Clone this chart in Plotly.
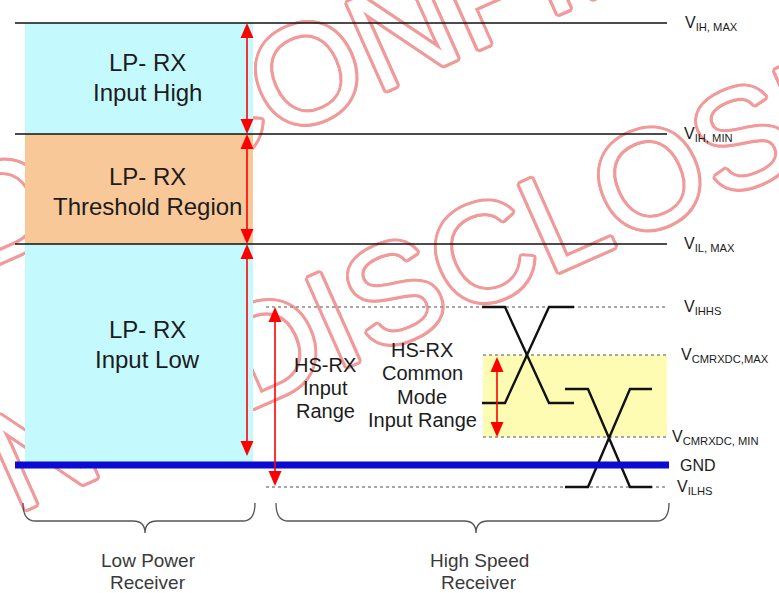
import plotly.graph_objects as go

# ---------------- diagram data (diagram units, y grows downward) ----------------
W, H = 779, 593

lp_level_labels = ["V<sub>IH, MAX</sub>", "V<sub>IH, MIN</sub>", "V<sub>IL, MAX</sub>"]
lp_levels = [23, 134, 244]
lp_label_x = [683, 682, 682]

gnd_level = 465
gnd_label = "GND"

hs_level_labels = ["V<sub>IHHS</sub>", "V<sub>CMRXDC,MAX</sub>", "V<sub>CMRXDC, MIN</sub>", "V<sub>ILHS</sub>"]
hs_levels = [307, 355, 437, 487]
hs_label_x = [682, 679, 670, 675]
hs_line_start = [266, 483, 483, 266]

line_x_start = 15
line_x_end = 667

lp_region_labels = [["LP- RX", "Input High"], ["LP- RX", "Threshold Region"], ["LP- RX", "Input Low"]]
lp_region_label_y = [77, 191, 344]
lp_region_top = [23, 134, 244]
lp_region_bottom = [134, 244, 462]
lp_region_colors = ["#c4fafe", "#f9c898", "#c4fafe"]
lp_region_x = [25, 253]

cm_region_x = [483, 667]

lp_arrow_x = 247
lp_arrow_spans = [(23, 134), (134, 244), (244, 456)]
hs_arrow_x = 275
hs_arrow_span = (307, 486)
cm_arrow_x = 497
cm_arrow_span = (357, 437)

hs_text = [["HS-RX", "Input", "Range"], ["HS-RX", "Common", "Mode", "Input Range"]]
hs_text_x = [325, 422]
hs_text_y = [388, 385]

eye1_x = [482, 505, 549, 574]
eye1_fall = [307, 307, 403, 403]
eye1_rise = [403, 403, 307, 307]
eye2_x = [565, 588, 630, 652]
eye2_fall = [389, 389, 487, 487]
eye2_rise = [487, 487, 389, 389]

brace_labels = [["Low Power", "Receiver"], ["High Speed", "Receiver"]]
brace_x0 = [23, 276]
brace_x1 = [255, 669]
brace_tip = [145, 476]
brace_y = (503, 521, 533)
brace_label_y = 571

watermark_text = ["NDA CONFIDENTIAL", "NO DISCLOSURE"]
watermark_cx = [484, 525]
watermark_cy = [-6, 234]

# ---------------- figure ----------------
fig = go.Figure()
FONT = "Liberation Sans, Arial, sans-serif"

# watermark (bottom layer, hollow letters)
pink = "#f29a9a"
offs = [(3, 0), (-3, 0), (0, 3), (0, -3), (2, 2), (2, -2), (-2, 2), (-2, -2),
        (3, 1), (3, -1), (-3, 1), (-3, -1), (1, 3), (1, -3), (-1, 3), (-1, -3)]
shadow = ", ".join(f"{dx}px {dy}px 0 {pink}" for dx, dy in offs)
for t, cx, cy in zip(watermark_text, watermark_cx, watermark_cy):
    fig.add_trace(go.Bar(
        x=[cx], y=[20], base=[cy - 10], width=[4],
        marker=dict(color="rgba(0,0,0,0)", line=dict(width=0)),
        text=[t], textposition="inside", insidetextanchor="middle",
        constraintext="none", textangle=-24,
        textfont=dict(family=FONT, size=140, color="white", shadow=shadow),
        hoverinfo="skip", showlegend=False, cliponaxis=True,
    ))

# LP regions
for top, bot, col in zip(lp_region_top, lp_region_bottom, lp_region_colors):
    x0, x1 = lp_region_x
    fig.add_trace(go.Scatter(x=[x0, x1, x1, x0, x0], y=[top, top, bot, bot, top],
                             mode="lines", fill="toself", fillcolor=col,
                             line=dict(width=0, color=col), hoverinfo="skip", showlegend=False))

# HS common-mode region
x0, x1 = cm_region_x
fig.add_trace(go.Scatter(x=[x0, x1, x1, x0, x0],
                         y=[hs_levels[1], hs_levels[1], hs_levels[2], hs_levels[2], hs_levels[1]],
                         mode="lines", fill="toself", fillcolor="#fdfcb2",
                         line=dict(width=0, color="#fdfcb2"), hoverinfo="skip", showlegend=False))

# LP threshold lines
for lv in lp_levels:
    fig.add_trace(go.Scatter(x=[line_x_start, line_x_end], y=[lv, lv], mode="lines",
                             line=dict(color="#111111", width=1.4), hoverinfo="skip", showlegend=False))

# HS dotted lines
for lv, xs in zip(hs_levels, hs_line_start):
    fig.add_trace(go.Scatter(x=[xs, line_x_end], y=[lv, lv], mode="lines",
                             line=dict(color="#8a8a8a", width=1.6, dash="dot"),
                             hoverinfo="skip", showlegend=False))

# eye waveforms
for xs, ys in [(eye1_x, eye1_fall), (eye1_x, eye1_rise), (eye2_x, eye2_fall), (eye2_x, eye2_rise)]:
    fig.add_trace(go.Scatter(x=xs, y=ys, mode="lines", line=dict(color="#111111", width=2.4),
                             hoverinfo="skip", showlegend=False))

# GND
fig.add_trace(go.Scatter(x=[line_x_start, line_x_end + 2], y=[gnd_level, gnd_level], mode="lines",
                         line=dict(color="#0b0bd2", width=7), hoverinfo="skip", showlegend=False))

# arrows
RED = "#ff0000"
HEAD_H, HEAD_W = 15, 6.5


def add_arrow(x, y_top, y_bot):
    fig.add_trace(go.Scatter(x=[x, x], y=[y_top + HEAD_H - 2, y_bot - HEAD_H + 2], mode="lines",
                             line=dict(color=RED, width=1.6), hoverinfo="skip", showlegend=False))
    fig.add_trace(go.Scatter(x=[x, x - HEAD_W, x + HEAD_W, x],
                             y=[y_top, y_top + HEAD_H, y_top + HEAD_H, y_top],
                             mode="lines", fill="toself", fillcolor=RED, line=dict(width=0, color=RED),
                             hoverinfo="skip", showlegend=False))
    fig.add_trace(go.Scatter(x=[x, x - HEAD_W, x + HEAD_W, x],
                             y=[y_bot, y_bot - HEAD_H, y_bot - HEAD_H, y_bot],
                             mode="lines", fill="toself", fillcolor=RED, line=dict(width=0, color=RED),
                             hoverinfo="skip", showlegend=False))


for a, b in lp_arrow_spans:
    add_arrow(lp_arrow_x, a, b)
add_arrow(hs_arrow_x, *hs_arrow_span)
add_arrow(cm_arrow_x, *cm_arrow_span)

# braces
shapes = []
yt, ym, yp = brace_y
r = 12
for x0, x1, xt in zip(brace_x0, brace_x1, brace_tip):
    path = (f"M {x0},{yt} Q {x0},{ym} {x0 + r},{ym} L {xt - r},{ym} Q {xt},{ym} {xt},{yp} "
            f"Q {xt},{ym} {xt + r},{ym} L {x1 - r},{ym} Q {x1},{ym} {x1},{yt}")
    shapes.append(dict(type="path", path=path, xref="x", yref="y",
                       line=dict(color="#555555", width=1.3), layer="above"))

annotations = []
TXT = "#1c1c1c"


def add_lines(lines, x, yc, spacing, size, color):
    n = len(lines)
    for i, ln in enumerate(lines):
        y = yc + (i - (n - 1) / 2) * spacing
        annotations.append(dict(x=x, y=y, text=ln, showarrow=False, xanchor="center", yanchor="middle",
                                font=dict(family=FONT, size=size, color=color)))


for lines, yc in zip(lp_region_labels, lp_region_label_y):
    add_lines(lines, 147, yc, 30, 24, TXT)
for lines, x, yc in zip(hs_text, hs_text_x, hs_text_y):
    add_lines(lines, x, yc, 23.3, 20, TXT)

for lab, lv, x in zip(lp_level_labels + hs_level_labels, lp_levels + hs_levels, lp_label_x + hs_label_x):
    annotations.append(dict(x=x, y=lv, text=lab, showarrow=False, xanchor="left", yanchor="middle",
                            font=dict(family=FONT, size=16, color=TXT)))
annotations.append(dict(x=678, y=gnd_level, text=gnd_label, showarrow=False, xanchor="left",
                        yanchor="middle", font=dict(family=FONT, size=16, color=TXT)))
for lines, xt in zip(brace_labels, brace_tip):
    add_lines(lines, xt + 3, brace_label_y, 22, 19, "#3a3a3a")

fig.update_layout(
    width=W, height=H, margin=dict(l=0, r=0, t=0, b=0),
    paper_bgcolor="white", plot_bgcolor="white",
    xaxis=dict(range=[0, W], visible=False, fixedrange=True),
    yaxis=dict(range=[H, 0], visible=False, fixedrange=True),
    showlegend=False, shapes=shapes, annotations=annotations, barmode="overlay",
)

fig.write_html("out.html", config={"displayModeBar": False},
               post_script="document.body.style.margin='0px';")
